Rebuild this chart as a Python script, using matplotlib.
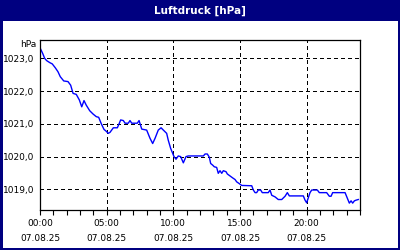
import numpy as np
import matplotlib.pyplot as plt
from matplotlib.patches import Rectangle

# Stunden seit 00:00 am 07.08.25 und Luftdruck in hPa
stunden = [0.05, 0.2, 0.35, 0.5, 0.73, 0.92, 1.15, 1.35, 1.52, 1.78, 2.1, 2.3, 2.48,
           2.72, 2.95, 3.13, 3.3, 3.47, 3.73, 3.98, 4.22, 4.4, 4.6, 4.8, 4.95, 5.12,
           5.25, 5.5, 5.8, 5.95, 6.05, 6.25, 6.38, 6.62, 6.75, 6.88, 7.3, 7.43, 7.63,
           8.0, 8.25, 8.45, 8.63, 8.87, 9.08, 9.25, 9.5, 9.62, 9.8, 9.95, 10.05, 10.2,
           10.37, 10.55, 10.75, 10.95, 11.12, 12.25, 12.38, 12.55, 12.7, 12.8, 12.95,
           13.07, 13.25, 13.37, 13.5, 13.63, 13.75, 13.95, 14.05, 14.25, 14.45, 14.63,
           14.75, 14.93, 15.13, 15.88, 16.0, 16.13, 16.25, 16.37, 16.55, 16.67, 17.12,
           17.25, 17.38, 17.63, 17.87, 18.13, 18.38, 18.55, 18.7, 19.75, 19.88, 20.0,
           20.08, 20.25, 20.38, 20.8, 20.95, 21.5, 21.7, 21.83, 21.95, 22.88, 23.05,
           23.2, 23.33, 23.45, 23.58, 23.7, 23.87]
druck = [1023.28, 1023.15, 1023.0, 1022.93, 1022.87, 1022.83, 1022.71, 1022.59, 1022.44,
         1022.31, 1022.29, 1022.18, 1021.93, 1021.9, 1021.73, 1021.52, 1021.71, 1021.57,
         1021.4, 1021.3, 1021.22, 1021.2, 1021.0, 1020.83, 1020.78, 1020.71, 1020.74,
         1020.88, 1020.88, 1021.02, 1021.12, 1021.1, 1021.02, 1021.02, 1021.1, 1021.02,
         1021.02, 1021.1, 1020.84, 1020.81, 1020.56, 1020.4, 1020.56, 1020.81, 1020.88,
         1020.81, 1020.71, 1020.5, 1020.25, 1020.1, 1020.0, 1019.92, 1020.02, 1020.0,
         1019.81, 1020.0, 1020.02, 1020.02, 1020.08, 1020.08, 1019.98, 1019.79, 1019.74,
         1019.69, 1019.67, 1019.49, 1019.57, 1019.49, 1019.57, 1019.54, 1019.47, 1019.41,
         1019.35, 1019.3, 1019.23, 1019.18, 1019.12, 1019.11, 1018.98, 1018.9, 1018.9,
         1018.98, 1018.98, 1018.9, 1018.9, 1018.98, 1018.82, 1018.77, 1018.69, 1018.69,
         1018.79, 1018.9, 1018.8, 1018.8, 1018.67, 1018.59, 1018.69, 1018.9, 1018.98,
         1018.98, 1018.9, 1018.9, 1018.79, 1018.79, 1018.9, 1018.9, 1018.73, 1018.58,
         1018.65, 1018.58, 1018.65, 1018.67, 1018.69]

y_ticks = [1019, 1020, 1021, 1022, 1023]
x_ticks = [0, 5, 10, 15, 20]
x_labels = ['00:00\n07.08.25', '05:00\n07.08.25', '10:00\n07.08.25',
            '15:00\n07.08.25', '20:00\n07.08.25']

navy = '#000080'
fig = plt.figure(figsize=(4, 2.5), dpi=100)
fig.patch.set_facecolor('white')

# Rahmen und Titelleiste
fig.add_artist(Rectangle((0, 0), 1, 1, transform=fig.transFigure, fill=False,
                         edgecolor=navy, linewidth=2.4, antialiased=False))
fig.add_artist(Rectangle((0, 1 - 21 / 250), 1, 21 / 250, transform=fig.transFigure,
                         facecolor=navy, edgecolor='none', antialiased=False))
fig.text(0.5, 1 - 10.5 / 250, 'Luftdruck [hPa]', color='white', fontsize=7.5,
         fontweight='bold', ha='center', va='center')

ax = fig.add_axes([0.1, 0.16, 0.8, 0.68])
ax.plot(stunden, druck, color='#0000ff', linewidth=1.0)

ax.set_xlim(0, 24)
ax.set_ylim(1018.37, 1023.56)
ax.set_xticks(range(0, 25), minor=True)
ax.set_xticks(x_ticks)
ax.set_xticklabels(x_labels, fontsize=6.5, linespacing=1.9)
ax.set_yticks(y_ticks)
ax.set_yticklabels([f'{v},0' for v in y_ticks], fontsize=6.5)
ax.tick_params(axis='x', which='both', direction='out', length=3.5, width=0.8, pad=3)
ax.tick_params(axis='y', length=0, pad=4)
ax.grid(True, color='black', linestyle=(0, (3, 3)), linewidth=0.8, antialiased=False)
for s in ax.spines.values():
    s.set_linewidth(0.9)

fig.text(0.09, 1 - 45 / 250, 'hPa', fontsize=6.5, ha='right', va='center')

fig.savefig('out.png', dpi=100)
